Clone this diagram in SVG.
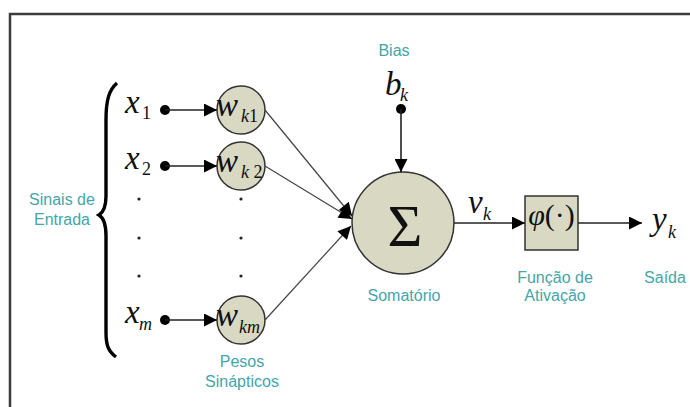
<svg xmlns="http://www.w3.org/2000/svg" width="690" height="407" viewBox="0 0 690 407">
<defs>
<marker id="ah" viewBox="0 0 10 10" refX="10" refY="5" markerWidth="16" markerHeight="13" markerUnits="userSpaceOnUse" orient="auto">
<path d="M0,0 L10,5 L0,10 z" fill="#000"/>
</marker>
</defs>
<style>
.lbl{font-family:"Liberation Sans",Arial,sans-serif;font-size:16px;fill:#45a5aa;text-anchor:middle}
.var{font-family:"Liberation Serif","Times New Roman",serif;font-style:italic;font-size:33px;fill:#111}
.sub{font-family:"Liberation Serif","Times New Roman",serif;font-style:italic;font-size:18px;fill:#111}
.num{font-style:normal}
.node{fill:#d8d8c3;stroke:#333;stroke-width:1.5}
.conn{stroke:#222;stroke-width:1.6;fill:none}
.thin{stroke:#444;stroke-width:1.2;fill:none}
.dot{fill:#000}
.sdot{fill:#222}
</style>
<rect width="690" height="407" fill="#fff"/>
<rect x="10" y="14" width="700" height="420" fill="none" stroke="#3c3c3c" stroke-width="2.5"/>

<g id="brace">
<path d="M117,83 C109,90 106,100 106,120 L106,196 C106,207 104,212 99,215 C104,218 106,224 106,236 L106,332 C106,345 108,351 116,357" fill="none" stroke="#000" stroke-width="3.4"/>
</g>

<g id="labels">
<text class="lbl" x="62" y="205">Sinais de</text>
<text class="lbl" x="62" y="225">Entrada</text>
<text class="lbl" x="394" y="56">Bias</text>
<text class="lbl" x="404" y="301">Somatório</text>
<text class="lbl" x="555" y="283">Função de</text>
<text class="lbl" x="555" y="301">Ativação</text>
<text class="lbl" x="665" y="283">Saída</text>
<text class="lbl" x="242" y="367">Pesos</text>
<text class="lbl" x="242" y="387">Sinápticos</text>
</g>

<g id="inputs">
<text class="var" x="125" y="113">x</text><text class="sub num" x="142" y="119">1</text>
<text class="var" x="125" y="169">x</text><text class="sub num" x="142" y="175">2</text>
<text class="var" x="125" y="323">x</text><text class="sub" x="139" y="330">m</text>
<circle class="dot" cx="165" cy="110" r="5"/>
<circle class="dot" cx="165" cy="166" r="5"/>
<circle class="dot" cx="165" cy="320" r="5"/>
<circle class="sdot" cx="139" cy="199" r="1.6"/>
<circle class="sdot" cx="139" cy="238" r="1.6"/>
<circle class="sdot" cx="139" cy="276" r="1.6"/>
</g>

<g id="w_k1">
<circle class="node" cx="241" cy="110" r="24"/>
<text class="var" x="216" y="116">w</text><text class="sub" x="241" y="122">k<tspan class="num">1</tspan></text>
</g>
<g id="w_k2">
<circle class="node" cx="241" cy="166" r="24"/>
<text class="var" x="216" y="172">w</text><text class="sub" x="241" y="178">k <tspan class="num">2</tspan></text>
</g>
<g id="w_km">
<circle class="node" cx="241" cy="320" r="24"/>
<text class="var" x="216" y="326">w</text><text class="sub" x="239" y="333">km</text>
</g>
<g id="wdots">
<circle class="sdot" cx="241" cy="199" r="1.6"/>
<circle class="sdot" cx="241" cy="238" r="1.6"/>
<circle class="sdot" cx="241" cy="276" r="1.6"/>
</g>

<g id="bias">
<text class="var" x="385" y="95">b</text><text class="sub" x="400" y="101">k</text>
<circle class="dot" cx="401" cy="109" r="5"/>
</g>

<g id="sum">
<circle class="node" cx="403" cy="223" r="51"/>
<text x="405" y="246" text-anchor="middle" font-family="Liberation Serif,'Times New Roman',serif" font-size="60" fill="#111">Σ</text>
<text class="var" x="468" y="213">v</text><text class="sub" x="483" y="220">k</text>
</g>

<g id="activation">
<rect class="node" x="525" y="196" width="53" height="54"/>
<text x="551.5" y="225" text-anchor="middle" font-family="Liberation Serif,'Times New Roman',serif" font-size="30" fill="#111"><tspan font-style="italic">φ</tspan>(·)</text>
</g>

<g id="output">
<text class="var" x="652" y="230">y</text><text class="sub" x="668" y="238">k</text>
</g>

<g id="connectors">
<line class="conn" x1="165" y1="110" x2="217" y2="110" marker-end="url(#ah)"/>
<line class="conn" x1="165" y1="166" x2="217" y2="166" marker-end="url(#ah)"/>
<line class="conn" x1="165" y1="320" x2="217" y2="320" marker-end="url(#ah)"/>
<line class="thin" x1="265" y1="110" x2="352" y2="216" marker-end="url(#ah)"/>
<line class="thin" x1="265" y1="166" x2="352" y2="219" marker-end="url(#ah)"/>
<line class="thin" x1="265" y1="320" x2="351" y2="226" marker-end="url(#ah)"/>
<line class="conn" x1="401" y1="109" x2="401" y2="172" marker-end="url(#ah)"/>
<line class="conn" x1="454" y1="223" x2="525" y2="223" marker-end="url(#ah)"/>
<line class="conn" x1="578" y1="223" x2="642" y2="223" marker-end="url(#ah)"/>
</g>
</svg>
